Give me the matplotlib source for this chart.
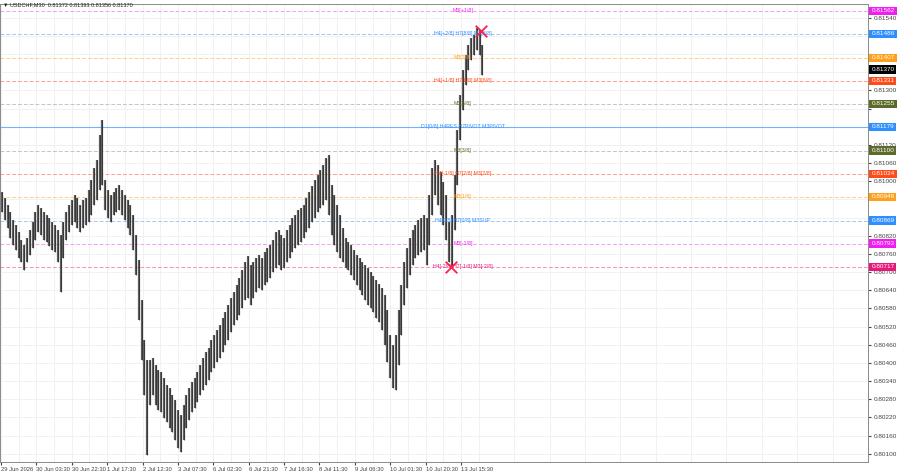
import matplotlib
matplotlib.use("Agg")
import matplotlib.pyplot as plt
import numpy as np

plt.rcParams["font.family"] = ["Liberation Sans", "DejaVu Sans"]

# ---------------- data ----------------
title_text = "\u25BC USDCHF,M30  0.81372 0.81393 0.81356 0.81370"

# high / low of consecutive 3-bar (90 min) groups of the M30 chart
bin_highs = [
    0.80964, 0.80945, 0.80921, 0.80898, 0.80872, 0.80855, 0.80832, 0.80806, 0.80789, 0.80813,
    0.80839, 0.80865, 0.80898, 0.80921, 0.80912, 0.80898, 0.80888, 0.80879, 0.80865, 0.80855,
    0.80839, 0.80822, 0.80865, 0.80898, 0.80921, 0.80938, 0.80954, 0.80945, 0.80921, 0.80938,
    0.80945, 0.80971, 0.81004, 0.81044, 0.81070, 0.81152, 0.81202, 0.81004, 0.80971, 0.80954,
    0.80964, 0.80978, 0.80987, 0.80971, 0.80954, 0.80938, 0.80921, 0.80888, 0.80822, 0.80740,
    0.80608, 0.80476, 0.80410, 0.80410, 0.80417, 0.80393, 0.80377, 0.80370, 0.80351, 0.80327,
    0.80318, 0.80294, 0.80278, 0.80245, 0.80228, 0.80261, 0.80294, 0.80318, 0.80337, 0.80351,
    0.80370, 0.80393, 0.80417, 0.80436, 0.80450, 0.80476, 0.80492, 0.80509, 0.80525, 0.80549,
    0.80568, 0.80591, 0.80615, 0.80634, 0.80657, 0.80681, 0.80707, 0.80733, 0.80753, 0.80723,
    0.80733, 0.80747, 0.80756, 0.80747, 0.80766, 0.80780, 0.80789, 0.80806, 0.80832, 0.80839,
    0.80822, 0.80813, 0.80839, 0.80855, 0.80879, 0.80888, 0.80905, 0.80912, 0.80921, 0.80945,
    0.80964, 0.80984, 0.81004, 0.81020, 0.81037, 0.81053, 0.81077, 0.81086, 0.80987, 0.80954,
    0.80921, 0.80888, 0.80846, 0.80813, 0.80799, 0.80789, 0.80773, 0.80756, 0.80747, 0.80733,
    0.80723, 0.80714, 0.80700, 0.80687, 0.80674, 0.80661, 0.80648, 0.80624, 0.80575, 0.80492,
    0.80459, 0.80492, 0.80575, 0.80657, 0.80733, 0.80780, 0.80813, 0.80839, 0.80855, 0.80872,
    0.80879, 0.80888, 0.80879, 0.80954, 0.81044, 0.81070, 0.81053, 0.81030, 0.80997, 0.80954,
    0.80865, 0.80888, 0.81020, 0.81169, 0.81284, 0.81367, 0.81416, 0.81449, 0.81473, 0.81482,
    0.81506, 0.81499, 0.81449,
]
bin_lows = [
    0.80898, 0.80872, 0.80846, 0.80813, 0.80789, 0.80773, 0.80747, 0.80733, 0.80707, 0.80733,
    0.80756, 0.80780, 0.80806, 0.80832, 0.80822, 0.80806, 0.80799, 0.80786, 0.80773, 0.80766,
    0.80733, 0.80634, 0.80747, 0.80806, 0.80832, 0.80855, 0.80865, 0.80846, 0.80832, 0.80846,
    0.80855, 0.80865, 0.80888, 0.80921, 0.80938, 0.80971, 0.80987, 0.80905, 0.80879, 0.80865,
    0.80888, 0.80898, 0.80905, 0.80888, 0.80872, 0.80846, 0.80822, 0.80773, 0.80690, 0.80542,
    0.80410, 0.80294, 0.80096, 0.80261, 0.80294, 0.80261, 0.80245, 0.80238, 0.80219, 0.80205,
    0.80186, 0.80172, 0.80146, 0.80120, 0.80106, 0.80146, 0.80186, 0.80212, 0.80238, 0.80252,
    0.80271, 0.80294, 0.80311, 0.80327, 0.80344, 0.80370, 0.80384, 0.80403, 0.80417, 0.80436,
    0.80459, 0.80476, 0.80502, 0.80525, 0.80542, 0.80558, 0.80582, 0.80608, 0.80615, 0.80591,
    0.80615, 0.80634, 0.80648, 0.80641, 0.80657, 0.80667, 0.80681, 0.80700, 0.80714, 0.80723,
    0.80707, 0.80714, 0.80733, 0.80747, 0.80766, 0.80780, 0.80789, 0.80799, 0.80813, 0.80832,
    0.80846, 0.80865, 0.80879, 0.80898, 0.80912, 0.80921, 0.80938, 0.80888, 0.80822, 0.80789,
    0.80766, 0.80747, 0.80733, 0.80714, 0.80707, 0.80690, 0.80674, 0.80657, 0.80641, 0.80624,
    0.80608, 0.80591, 0.80582, 0.80568, 0.80549, 0.80535, 0.80509, 0.80459, 0.80403, 0.80351,
    0.80318, 0.80311, 0.80393, 0.80492, 0.80591, 0.80648, 0.80690, 0.80723, 0.80747, 0.80756,
    0.80766, 0.80773, 0.80723, 0.80789, 0.80888, 0.80954, 0.80921, 0.80888, 0.80855, 0.80806,
    0.80733, 0.80720, 0.80839, 0.80987, 0.81136, 0.81235, 0.81317, 0.81367, 0.81400, 0.81416,
    0.81433, 0.81416, 0.81350,
]
bars_per_bin = 3

time_labels = ["29 Jun 2026", "30 Jun 03:30", "30 Jun 22:30", "1 Jul 17:30", "2 Jul 12:30",
               "3 Jul 07:30", "6 Jul 02:30", "6 Jul 21:30", "7 Jul 16:30", "8 Jul 11:30",
               "9 Jul 06:30", "10 Jul 01:30", "10 Jul 20:30", "13 Jul 15:30"]
bars_per_label = 38

level_prices = [0.81562, 0.81486, 0.81407, 0.81331, 0.81255, 0.81179,
                0.81100, 0.81024, 0.80948, 0.80869, 0.80793, 0.80717]
level_labels = ["M3[+1/8]", "H4[+2/8] H7[8/8] M3[8/8]", "M3[7/8]",
                "H4[+1/8] H7[6/8] M3[6/8]", "M3[5/8]", "D1[0/8] H4RES H7PIVOT M3PIVOT",
                "M3[3/8]", "H4[-1/8] H7[2/8] M3[2/8]", "M3[1/8]",
                "H4[0/8] H7[0/8] M3SUP", "M3[-1/8]", "H4[-2/8] H7[-1/8] M3[-2/8]"]
level_colors = ["#f01ef0", "#2f8fff", "#ff9f1a", "#ff4a1a", "#5c6b2a", "#2f8fff",
                "#5c6b2a", "#ff4a1a", "#ff9f1a", "#2f8fff", "#f01ef0", "#e8177a"]
level_line_colors = ["#f7a0f7", "#9cc8ff", "#ffcf8a", "#ffa38a", "#c4c7b0", "#6fb2ff",
                     "#c4c4c4", "#ffa38a", "#ffcf8a", "#9cc8ff", "#f7a0f7", "#f590c0"]
level_solid = [False, False, False, False, False, True,
               False, False, False, False, False, False]

current_price = 0.81370
marker_bars = [483, 515]
marker_prices = [0.80717, 0.81495]
label_bar = 496

# ---------------- figure ----------------
W, H = 900, 474
fig = plt.figure(figsize=(W / 100, H / 100), dpi=100)
ax = fig.add_axes([0 / W, 12 / H, 868 / W, 458 / H])

ax.set_xlim(-1.06, 920.4)
ax.set_ylim(0.80073, 0.81585)

# grid
y_ticks = np.round(np.arange(0.80100, 0.81545, 0.0006), 5)
ax.set_yticks(y_ticks)
maj_x = [bars_per_label * k for k in range(len(time_labels))]
min_x = [bars_per_label * k + bars_per_label // 2 for k in range(25)]
ax.set_xticks(maj_x)
ax.set_xticks(min_x, minor=True)
ax.grid(True, which="both", color="#efefef", lw=0.6)
ax.set_axisbelow(True)

# levels
for p, lab, c, lc, solid in zip(level_prices, level_labels, level_colors,
                                level_line_colors, level_solid):
    ax.axhline(p, color=lc, lw=0.8 if solid else 0.7,
               ls="-" if solid else (0, (4, 2)), zorder=1)
    ax.text(label_bar, p, lab, ha="center", va="center", fontsize=3.8,
            color=c, zorder=4)

# price bars
x = np.arange(len(bin_highs)) * bars_per_bin + 1
ax.vlines(x, bin_lows, bin_highs, color="#5e5e5e", lw=1.6, zorder=3)
ax.vlines(x, bin_lows, bin_highs, color="#2a2a2a", lw=0.5, zorder=3)

# crosses
ax.scatter(marker_bars, marker_prices, marker="x", s=70, color="#ff1f4b",
           linewidths=1.3, zorder=5)

# right axis
ax.yaxis.tick_right()
box_prices = level_prices + [current_price]
ylabels = []
for t in y_ticks:
    if min(abs(t - b) for b in box_prices) < 0.00016:
        ylabels.append("")
    else:
        ylabels.append(f"{t:.5f}")
ax.set_yticklabels(ylabels)
ax.tick_params(axis="y", labelsize=4.6, length=2, pad=2, colors="#444444")
ax.tick_params(axis="y", which="minor", length=0)

for p, c in zip(box_prices, level_colors + ["#000000"]):
    ax.annotate(f"{p:.5f}", xy=(1, p), xycoords=("axes fraction", "data"),
                xytext=(2.4, 0), textcoords="offset points", ha="left", va="center",
                fontsize=4.6, color="white", annotation_clip=False, zorder=6,
                bbox=dict(boxstyle="square,pad=0.3", fc=c, ec="none"))

# bottom axis
ax.set_xticklabels(time_labels)
for lbl in ax.get_xticklabels():
    lbl.set_ha("left")
ax.tick_params(axis="x", labelsize=4.2, length=2, pad=1.5, colors="#444444")
ax.tick_params(axis="x", which="minor", length=0)

for s in ax.spines.values():
    s.set_color("#8a8a8a")
    s.set_linewidth(0.7)

fig.text(3 / W, 1 - 5 / H, title_text, fontsize=4, color="#222222",
         ha="left", va="center")

fig.savefig("out.png", dpi=100)
